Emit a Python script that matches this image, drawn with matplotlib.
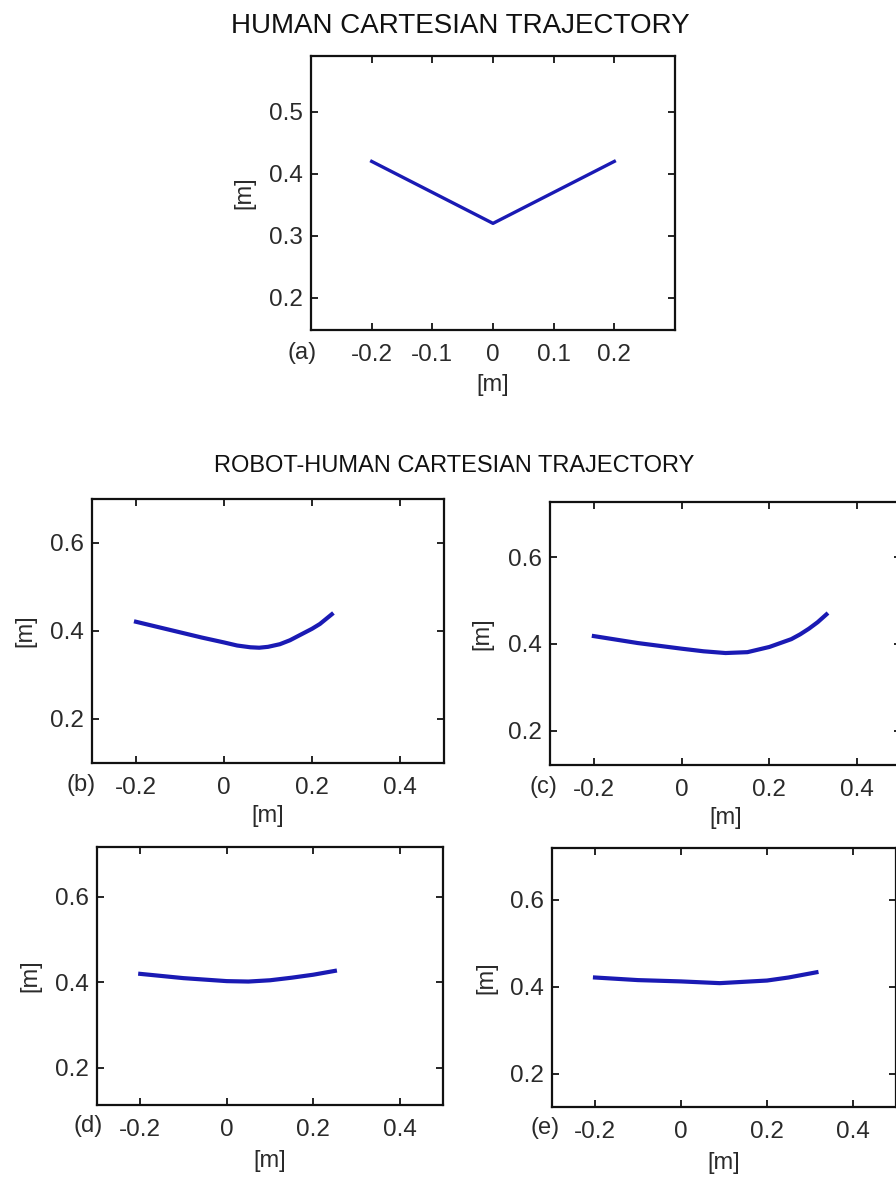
import matplotlib
matplotlib.use("Agg")
import matplotlib.pyplot as plt

plt.rcParams['font.family'] = ['Liberation Sans', 'DejaVu Sans']

# trajectory data, in metres
human_x = [-0.2, 0.0, 0.2]
human_y = [0.42, 0.32, 0.42]

b_x = [-0.2, -0.15, -0.1, -0.05, 0.0, 0.03, 0.06, 0.08, 0.1, 0.127, 0.15, 0.173, 0.2, 0.218, 0.245]
b_y = [0.421, 0.409, 0.397, 0.385, 0.374, 0.367, 0.363, 0.362, 0.364, 0.370, 0.379, 0.391, 0.405, 0.416, 0.438]

c_x = [-0.2, -0.1, 0.0, 0.05, 0.1, 0.15, 0.2, 0.25, 0.27, 0.29, 0.31, 0.33]
c_y = [0.418, 0.402, 0.389, 0.383, 0.379, 0.381, 0.393, 0.411, 0.422, 0.435, 0.450, 0.468]

d_x = [-0.2, -0.1, 0.0, 0.05, 0.1, 0.15, 0.2, 0.25]
d_y = [0.420, 0.410, 0.403, 0.402, 0.405, 0.411, 0.418, 0.427]

e_x = [-0.2, -0.1, 0.0, 0.09, 0.2, 0.25, 0.315]
e_y = [0.421, 0.415, 0.412, 0.408, 0.414, 0.421, 0.433]

a_xticks = [-0.2, -0.1, 0, 0.1, 0.2]
a_xlabels = ['-0.2', '-0.1', '0', '0.1', '0.2']
a_yticks = [0.2, 0.3, 0.4, 0.5]
a_ylabels = ['0.2', '0.3', '0.4', '0.5']
r_xticks = [-0.2, 0, 0.2, 0.4]
r_xlabels = ['-0.2', '0', '0.2', '0.4']
r_yticks = [0.2, 0.4, 0.6]
r_ylabels = ['0.2', '0.4', '0.6']

W, H = 896, 1177
fig = plt.figure(figsize=(W / 100, H / 100), dpi=100)
fig.patch.set_facecolor('white')

LINE = '#1a1ab4'
TXT = '#2a2a2a'


def add_ax(l, t, r, b):
    return fig.add_axes([l / W, 1 - b / H, (r - l) / W, (b - t) / H])


def style(ax, xlim, ylim, xt, xl, yt, yl, tag, tagx, ylab_x, xlab_y):
    ax.set_xlim(*xlim)
    ax.set_ylim(*ylim)
    ax.set_xticks(xt)
    ax.set_xticklabels(xl)
    ax.set_yticks(yt)
    ax.set_yticklabels(yl)
    ax.tick_params(direction='in', length=5, width=1.2, top=True, right=True,
                   labelsize=17.5, labelcolor=TXT, pad=6)
    ax.tick_params(axis='x', pad=10)
    for s in ax.spines.values():
        s.set_linewidth(1.6)
        s.set_color('#111111')
    ax.set_xlabel('[m]', fontsize=17, color=TXT)
    ax.set_ylabel('[m]', fontsize=17, color=TXT)
    ax.xaxis.set_label_coords(0.5, xlab_y)
    ax.yaxis.set_label_coords(ylab_x, 0.5)
    ax.text(tagx, -0.083, tag, transform=ax.transAxes, fontsize=17, color=TXT,
            ha='center', va='center')


fig.text(460 / W, 1 - 26 / H, 'HUMAN CARTESIAN TRAJECTORY', fontsize=20,
         ha='center', va='center', color='#111111')
fig.text(454 / W, 1 - 466 / H, 'ROBOT-HUMAN CARTESIAN TRAJECTORY', fontsize=17,
         ha='center', va='center', color='#111111')

# (a)
ax = add_ax(311, 56, 675, 330)
ax.plot(human_x, human_y, color=LINE, lw=2.4)
style(ax, (-0.3, 0.3), (0.148, 0.59), a_xticks, a_xlabels, a_yticks, a_ylabels,
      '(a)', -0.025, -0.154, -0.16)

# (b)
ax = add_ax(92, 499, 444, 763)
ax.plot(b_x, b_y, color=LINE, lw=3)
style(ax, (-0.3, 0.5), (0.1, 0.7), r_xticks, r_xlabels, r_yticks, r_ylabels,
      '(b)', -0.03, -0.159, -0.16)

# (c)
ax = add_ax(550, 502, 901, 765)
ax.plot(c_x, c_y, color=LINE, lw=3)
style(ax, (-0.3, 0.5), (0.121, 0.727), r_xticks, r_xlabels, r_yticks, r_ylabels,
      '(c)', -0.02, -0.16, -0.16)

# (d)
ax = add_ax(97, 847, 443, 1105)
ax.plot(d_x, d_y, color=LINE, lw=3)
style(ax, (-0.3, 0.5), (0.113, 0.717), r_xticks, r_xlabels, r_yticks, r_ylabels,
      '(d)', -0.025, -0.162, -0.175)

# (e)
ax = add_ax(552, 848, 896, 1107)
ax.plot(e_x, e_y, color=LINE, lw=3)
style(ax, (-0.3, 0.5), (0.123, 0.719), r_xticks, r_xlabels, r_yticks, r_ylabels,
      '(e)', -0.02, -0.16, -0.175)

fig.savefig('out.png', dpi=100, facecolor='white')
